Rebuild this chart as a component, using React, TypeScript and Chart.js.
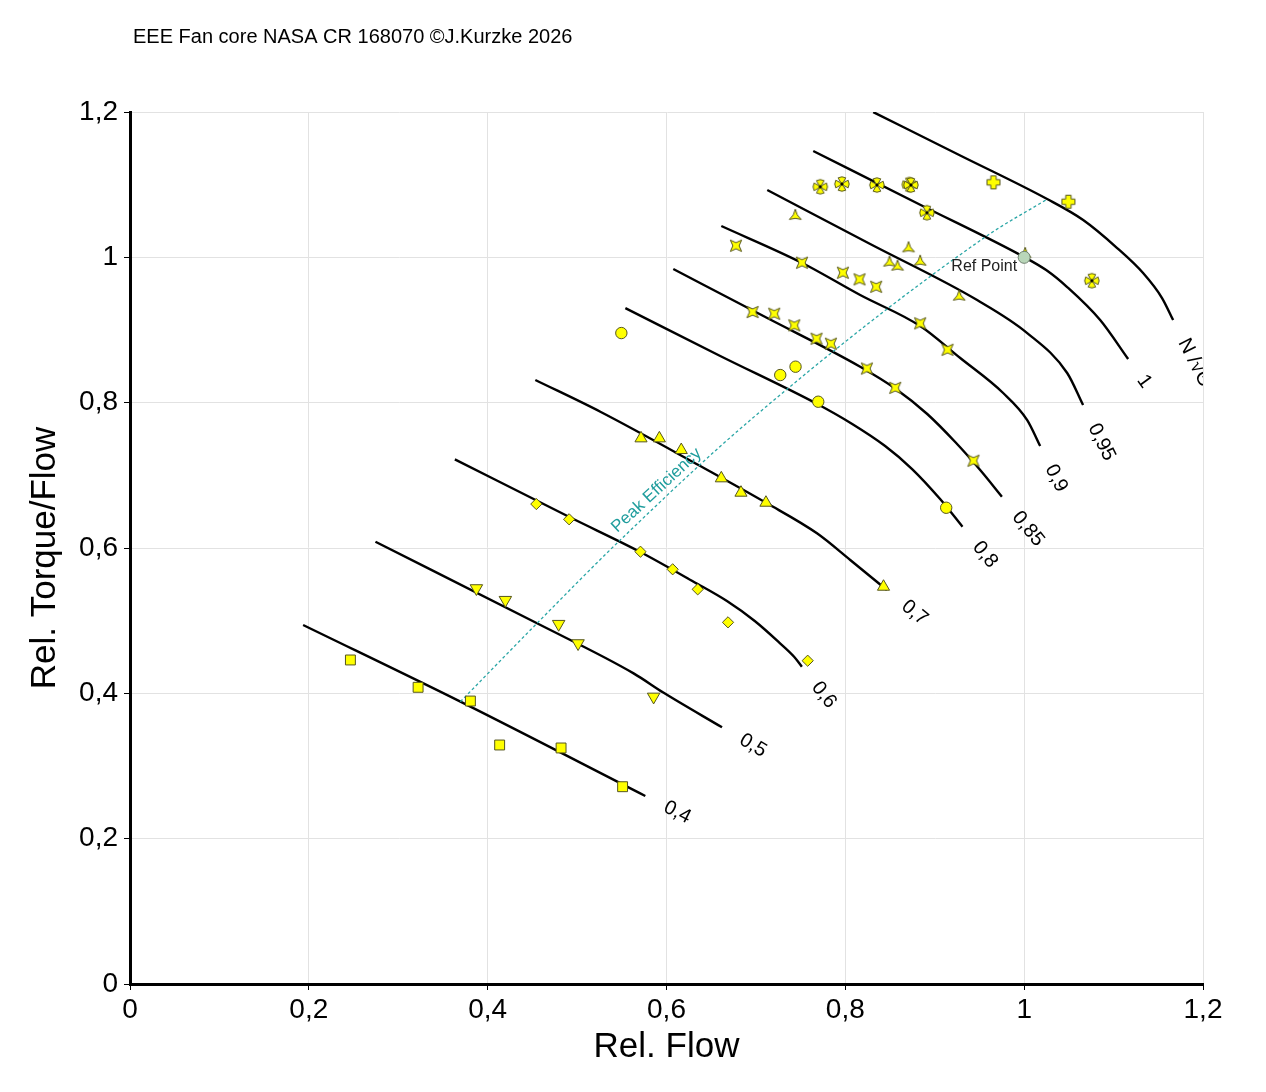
import React, { useEffect, useRef } from 'react';
import { Chart, registerables } from 'chart.js';

Chart.register(...registerables);

const FONT = "'Liberation Sans', Arial, Helvetica, sans-serif";

const chartTitle = 'EEE Fan core NASA CR 168070 ©J.Kurzke 2026';
const xAxisTitle = 'Rel. Flow';
const yAxisTitle = 'Rel. Torque/Flow';
const axisMin = 0;
const axisMax = 1.2;
const tickStep = 0.2;

// Speed lines (Rel. Flow, Rel. Torque/Flow)
const speed040 = [[0.1936, 0.494], [0.3695, 0.3885], [0.5763, 0.2587]];
const speed050 = [[0.2745, 0.6086], [0.4552, 0.4964], [0.5632, 0.4275], [0.5964, 0.4011], [0.6621, 0.3532]];
const speed060 = [[0.3633, 0.722], [0.4925, 0.6419], [0.5707, 0.5945], [0.6303, 0.5536], [0.6676, 0.527], [0.6987, 0.4995], [0.7267, 0.4692], [0.7427, 0.4504], [0.7514, 0.4367]];
const speed070 = [[0.4533, 0.8312], [0.526, 0.7875], [0.6378, 0.7128], [0.7124, 0.6615], [0.7683, 0.6202], [0.8055, 0.5835], [0.8465, 0.5422]];
const speed080 = [[0.554, 0.9302], [0.6601, 0.8642], [0.7686, 0.7981], [0.8077, 0.7706], [0.8445, 0.7403], [0.8747, 0.7087], [0.906, 0.6674], [0.931, 0.6293]];
const speed085 = [[0.6076, 0.9839], [0.7116, 0.9172], [0.8166, 0.8495], [0.8558, 0.8195], [0.8916, 0.7844], [0.9229, 0.7458], [0.9508, 0.7073], [0.9751, 0.6706]];
const speed090 = [[0.6613, 1.0431], [0.7518, 0.9922], [0.8166, 0.9481], [0.8837, 0.9054], [0.9285, 0.8614], [0.9765, 0.8133], [1.0034, 0.7761], [1.0179, 0.7403]];
const speed095 = [[0.7127, 1.0926], [0.8278, 1.0183], [0.9474, 0.9412], [1.0034, 0.8958], [1.0481, 0.8408], [1.0659, 0.7967]];
const speed100 = [[0.7641, 1.1463], [0.8837, 1.0724], [1.0, 1.0004], [1.0246, 0.9825], [1.0481, 0.9591], [1.085, 0.9137], [1.1163, 0.86]];
const speed105 = [[0.8312, 1.1999], [0.9285, 1.1401], [1.0257, 1.0802], [1.066, 1.0513], [1.104, 1.0128], [1.133, 0.9784], [1.1542, 0.944], [1.1666, 0.9137]];

const speedLines = [speed040, speed050, speed060, speed070, speed080, speed085, speed090, speed095, speed100, speed105];
const speedLabels = ['0,4', '0,5', '0,6', '0,7', '0,8', '0,85', '0,9', '0,95', '1', 'N /√Θ'];

// Peak efficiency line
const peakEfficiency = [[0.3695, 0.3885], [0.4552, 0.4964], [0.5464, 0.6087], [0.6938, 0.7761], [0.9564, 1.0279], [1.0254, 1.0798]];

// Measured points
const meas040 = [[0.2465, 0.4459], [0.3222, 0.4083], [0.3807, 0.3894], [0.4134, 0.3289], [0.4821, 0.3248], [0.5509, 0.2715]];
const meas050 = [[0.3874, 0.5445], [0.4198, 0.5284], [0.4794, 0.4954], [0.5011, 0.4688], [0.5856, 0.3953]];
const meas060 = [[0.4544, 0.6605], [0.4911, 0.6395], [0.5709, 0.5949], [0.6069, 0.5707], [0.6349, 0.5431], [0.6688, 0.4977], [0.7579, 0.4449]];
const meas070 = [[0.5715, 0.7509], [0.592, 0.7509], [0.6165, 0.7348], [0.6613, 0.6959], [0.6833, 0.6761], [0.7112, 0.6623], [0.8427, 0.5467]];
const meas080 = [[0.5495, 0.8958], [0.7272, 0.838], [0.7443, 0.8495], [0.7697, 0.8013], [0.9128, 0.6554]];
const meas085 = [[0.6963, 0.9247], [0.7205, 0.9224], [0.7429, 0.9064], [0.7678, 0.888], [0.7839, 0.8811], [0.8241, 0.847], [0.8558, 0.8204], [0.9433, 0.7201]];
const meas090 = [[0.6777, 1.016], [0.7515, 0.9926], [0.7973, 0.9788], [0.8159, 0.9697], [0.8345, 0.9595], [0.8837, 0.9092], [0.9143, 0.8728]];
const meas095 = [[0.744, 1.0568], [0.8707, 1.0124], [0.8494, 0.9926], [0.8584, 0.9871], [0.8837, 0.9939], [0.9273, 0.9458], [1.0011, 1.0045]];
const meas100 = [[0.772, 1.0971], [0.7962, 1.1009], [0.8353, 1.0995], [0.8715, 1.1002], [0.8733, 1.0995], [0.8912, 1.0614], [1.0757, 0.9678]];
const meas105 = [[0.9657, 1.1032], [1.0495, 1.0765]];

const refPoint = [[1.0, 1.0]];
const refLabel = 'Ref Point';
const peakLabel = 'Peak Efficiency';

const FILL = '#ffff00';
const STROKE = '#55551e';

const toXY = (arr: number[][]) => arr.map(([x, y]) => ({ x, y }));
const fmt = (v: any) => String(Math.round(Number(v) * 10) / 10).replace('.', ',');

function makeMarker(draw: (g: CanvasRenderingContext2D) => void, size = 22) {
  const c = document.createElement('canvas');
  c.width = size;
  c.height = size;
  const g = c.getContext('2d') as CanvasRenderingContext2D;
  g.translate(size / 2, size / 2);
  g.fillStyle = FILL;
  g.strokeStyle = STROKE;
  g.lineWidth = 1;
  g.lineJoin = 'round';
  draw(g);
  return c;
}

function starPath(g: CanvasRenderingContext2D, n: number, start: number, ro: number, ri: number) {
  g.beginPath();
  for (let i = 0; i < n * 2; i++) {
    const a = start + (i * Math.PI) / n;
    const r = i % 2 === 0 ? ro : ri;
    const px = Math.cos(a) * r;
    const py = Math.sin(a) * r;
    if (i === 0) g.moveTo(px, py);
    else g.lineTo(px, py);
  }
  g.closePath();
  g.fill();
  g.stroke();
}

export default function App() {
  const ref = useRef<HTMLCanvasElement | null>(null);

  useEffect(() => {
    if (!ref.current) return;

    const star4 = makeMarker((g) => starPath(g, 4, Math.PI / 4, 8, 3.1));
    const tripod = makeMarker((g) => starPath(g, 3, -Math.PI / 2, 6.8, 2.3));
    const maltese = makeMarker((g) => {
      g.beginPath();
      for (let k = 0; k < 4; k++) {
        const t = (k * Math.PI) / 2;
        const rot = (x: number, y: number) => [x * Math.cos(t) - y * Math.sin(t), x * Math.sin(t) + y * Math.cos(t)];
        const a = rot(1.6, -1.3);
        const b = rot(6.2, -3.8);
        const c = rot(8.2, 0);
        const d = rot(6.2, 3.8);
        const e = rot(1.6, 1.3);
        if (k === 0) g.moveTo(a[0], a[1]);
        else g.lineTo(a[0], a[1]);
        g.lineTo(b[0], b[1]);
        g.quadraticCurveTo(c[0], c[1], d[0], d[1]);
        g.lineTo(e[0], e[1]);
      }
      g.closePath();
      g.fill();
      g.stroke();
      g.beginPath();
      g.fillStyle = '#000';
      g.arc(0, 0, 1.7, 0, Math.PI * 2);
      g.fill();
    });
    const plus = makeMarker((g) => {
      const a = 2.7;
      const l = 6.5;
      g.beginPath();
      g.moveTo(-a, -l);
      g.lineTo(a, -l);
      g.lineTo(a, -a);
      g.lineTo(l, -a);
      g.lineTo(l, a);
      g.lineTo(a, a);
      g.lineTo(a, l);
      g.lineTo(-a, l);
      g.lineTo(-a, a);
      g.lineTo(-l, a);
      g.lineTo(-l, -a);
      g.lineTo(-a, -a);
      g.closePath();
      g.fill();
      g.stroke();
    });

    const lineDatasets = speedLines.map((pts, i) => ({
      label: 'N ' + speedLabels[i],
      data: toXY(pts),
      showLine: true,
      borderColor: '#000',
      borderWidth: 2.4,
      pointRadius: 0,
      pointHoverRadius: 0,
      fill: false,
      cubicInterpolationMode: 'monotone',
      order: 5,
    }));

    const markerSet = (data: number[][], style: any, radius: number, rotation = 0) => ({
      label: 'points',
      data: toXY(data),
      showLine: false,
      pointStyle: style,
      pointRadius: radius,
      pointRotation: rotation,
      pointBackgroundColor: FILL,
      pointBorderColor: STROKE,
      pointBorderWidth: 1,
      order: 2,
    });

    const datasets: any[] = [
      ...lineDatasets,
      {
        label: 'Peak Efficiency',
        data: toXY(peakEfficiency),
        showLine: true,
        borderColor: '#2aa6a6',
        borderWidth: 1.3,
        borderDash: [3, 2.5],
        pointRadius: 0,
        cubicInterpolationMode: 'monotone',
        order: 4,
      },
      markerSet(meas040, 'rect', 7),
      markerSet(meas050, 'triangle', 7.2, 180),
      markerSet(meas060, 'rectRot', 5.6),
      markerSet(meas070, 'triangle', 7),
      markerSet(meas080, 'circle', 5.7),
      markerSet(meas085, star4, 7),
      markerSet(meas090, star4, 7),
      markerSet(meas095, tripod, 7),
      markerSet(meas100, maltese, 7),
      markerSet(meas105, plus, 7),
      {
        label: 'Ref Point',
        data: toXY(refPoint),
        showLine: false,
        pointStyle: 'circle',
        pointRadius: 6,
        pointBackgroundColor: '#b9d6b9',
        pointBorderColor: '#6f826f',
        pointBorderWidth: 1,
        order: 1,
      },
    ];

    const nLines = speedLines.length;
    const peakIndex = nLines;
    const refIndex = datasets.length - 1;

    const annotations = {
      id: 'annotations',
      afterDatasetsDraw(chart: any) {
        const { ctx, chartArea } = chart;
        ctx.save();
        // Title
        ctx.fillStyle = '#000';
        ctx.font = `20px ${FONT}`;
        ctx.textAlign = 'left';
        ctx.textBaseline = 'middle';
        ctx.fillText(chartTitle, chartArea.left + 3, 37);

        // Y axis title
        ctx.save();
        ctx.translate(45, (chartArea.top + chartArea.bottom) / 2 + 10);
        ctx.rotate(-Math.PI / 2);
        ctx.font = `35px ${FONT}`;
        ctx.textAlign = 'center';
        ctx.fillText(yAxisTitle, 0, 0);
        ctx.restore();

        ctx.beginPath();
        ctx.rect(chartArea.left, chartArea.top, chartArea.right - chartArea.left, chartArea.bottom - chartArea.top);
        ctx.clip();

        // Speed line labels
        ctx.font = `20px ${FONT}`;
        ctx.textAlign = 'center';
        ctx.textBaseline = 'middle';
        for (let i = 0; i < nLines; i++) {
          const pts = chart.getDatasetMeta(i).data;
          const a = pts[pts.length - 2];
          const b = pts[pts.length - 1];
          const ang = Math.atan2(b.y - a.y, b.x - a.x);
          const w = ctx.measureText(speedLabels[i]).width;
          const d = 22 + w / 2;
          const cx = b.x + Math.cos(ang) * d;
          const cy = b.y + Math.sin(ang) * d;
          ctx.save();
          ctx.translate(cx, cy);
          ctx.rotate(ang);
          ctx.fillStyle = '#000';
          ctx.fillText(speedLabels[i], 0, 0);
          ctx.restore();
        }

        // Peak efficiency label
        const pk = chart.getDatasetMeta(peakIndex).data;
        const p2 = pk[2];
        const p3 = pk[3];
        const pang = Math.atan2(p3.y - p2.y, p3.x - p2.x);
        const t = 0.35;
        const px = p2.x + (p3.x - p2.x) * t + Math.sin(pang) * 12;
        const py = p2.y + (p3.y - p2.y) * t - Math.cos(pang) * 12;
        ctx.save();
        ctx.translate(px, py);
        ctx.rotate(pang);
        ctx.font = `17px ${FONT}`;
        ctx.fillStyle = '#1f9d9d';
        ctx.fillText(peakLabel, 0, 0);
        ctx.restore();

        // Ref point label
        const rp = chart.getDatasetMeta(refIndex).data[0];
        ctx.font = `16px ${FONT}`;
        ctx.fillStyle = '#222';
        ctx.textAlign = 'right';
        ctx.fillText(refLabel, rp.x - 7, rp.y + 9);

        ctx.restore();
      },
    };

    const chart = new Chart(ref.current, {
      type: 'scatter',
      data: { datasets },
      options: {
        animation: false,
        responsive: true,
        maintainAspectRatio: false,
        devicePixelRatio: 1,
        events: [],
        layout: { padding: { top: 112, right: 63, bottom: 0, left: 0 } },
        plugins: {
          legend: { display: false },
          tooltip: { enabled: false },
          title: { display: false },
        },
        scales: {
          x: {
            type: 'linear',
            min: axisMin,
            max: axisMax,
            ticks: {
              stepSize: tickStep,
              font: { family: FONT, size: 28 },
              color: '#000',
              padding: 3,
              callback: fmt,
            },
            grid: { color: '#e2e2e2', lineWidth: 1, tickColor: '#000', tickLength: 6, tickWidth: 1 },
            border: { color: '#000', width: 3 },
            title: {
              display: true,
              text: xAxisTitle,
              font: { family: FONT, size: 35 },
              color: '#000',
              padding: { top: 0, bottom: 24 },
            },
            afterFit: (s: any) => {
              s.height = 108;
              s.paddingLeft = 0;
              s.paddingRight = 0;
            },
          },
          y: {
            type: 'linear',
            min: axisMin,
            max: axisMax,
            ticks: {
              stepSize: tickStep,
              font: { family: FONT, size: 28 },
              color: '#000',
              padding: 6,
              callback: fmt,
            },
            grid: { color: '#e2e2e2', lineWidth: 1, tickColor: '#000', tickLength: 6, tickWidth: 1 },
            border: { color: '#000', width: 3 },
            title: { display: false },
            afterFit: (s: any) => {
              s.width = 130;
              s.paddingTop = 0;
              s.paddingBottom = 0;
            },
          },
        },
      } as any,
      plugins: [annotations],
    });

    return () => chart.destroy();
  }, []);

  return (
    <div style={{ position: 'absolute', left: 0, top: 0, width: 1266, height: 1092, background: '#fff' }}>
      <canvas ref={ref} style={{ display: 'block' }} />
    </div>
  );
}
